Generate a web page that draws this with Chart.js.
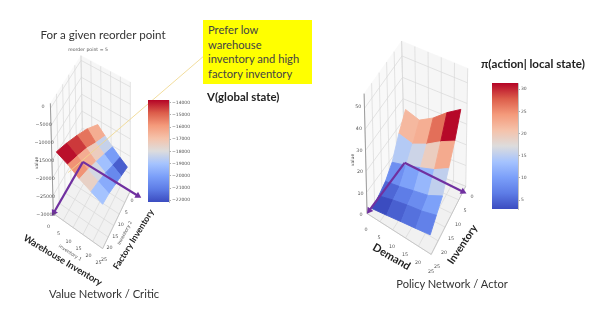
<!DOCTYPE html>
<html>
<head>
<meta charset="utf-8">
<script src="https://cdn.jsdelivr.net/npm/chart.js@4"></script>
<style>
  html, body { margin: 0; padding: 0; background: #fff; }
  #page { position: relative; width: 598px; height: 312px; overflow: hidden; font-family: Lato, sans-serif; color: #333; filter: blur(0.4px); }
  canvas { position: absolute; }
  .t { position: absolute; white-space: nowrap; transform: translate(-50%, -50%); }
  .l { position: absolute; white-space: nowrap; }
  .b { font-weight: 700; color: #222; }
  #note { position: absolute; left: 203px; top: 20px; width: 109px; height: 64px; background: #ffff00; box-sizing: border-box; padding: 3px 0 0 5px; font-size: 11.2px; line-height: 14.7px; color: #444; white-space: nowrap; }
</style>
</head>
<body>
<div id="page">
  <canvas id="scene" width="598" height="312" style="left:0;top:0;width:598px;height:312px"></canvas>
  <canvas id="barCritic" style="left:148px;top:94px"></canvas>
  <canvas id="barActor" style="left:492px;top:77px"></canvas>

  <div class="t" style="left:103px;top:34px;font-size:11.6px">For a given reorder point</div>
  <div class="t" style="left:104px;top:293px;font-size:11.2px">Value Network / Critic</div>
  <div class="t" style="left:452px;top:283px;font-size:11.1px">Policy Network / Actor</div>
  <div id="note">Prefer low<br>warehouse<br>inventory and high<br>factory inventory</div>
  <div class="l b" style="left:207px;top:90px;font-size:11.4px">V(global state)</div>
  <div class="l b" style="left:481px;top:57px;font-size:11.6px">π(action| local state)</div>
  <div class="t b" style="left:63px;top:260px;font-size:9.4px;transform:translate(-50%,-50%) rotate(31deg)">Warehouse Inventory</div>
  <div class="t b" style="left:133px;top:239px;font-size:8.8px;transform:translate(-50%,-50%) rotate(-58deg)">Factory Inventory</div>
  <div class="t b" style="left:392px;top:256px;font-size:11px;transform:translate(-50%,-50%) rotate(30deg)">Demand</div>
  <div class="t b" style="left:462px;top:244px;font-size:10.5px;transform:translate(-50%,-50%) rotate(-56deg)">Inventory</div>
</div>

<script>
// values
const axisTicks = [0, 5, 10, 15, 20, 25];
const criticZTicks = [-30000, -25000, -20000, -15000, -10000, -5000, 0];
const actorZTicks = [0, 10, 20, 30, 40, 50];
const criticBarTicks = [-22000, -21000, -20000, -19000, -18000, -17000, -16000, -15000, -14000];
const actorBarTicks = [5, 10, 15, 20, 25, 30];

const warehouseLevels = [0, 6.25, 12.5, 18.75, 25];
const factoryLevels = [25, 18.75, 12.5, 6.25, 0];
const criticValues = [
  [-13000, -13200, -13700, -14500, -16000],
  [-14500, -15000, -15700, -17000, -18000],
  [-16500, -17000, -17800, -18800, -19800],
  [-18000, -18500, -19300, -20500, -21500],
  [-19500, -20000, -21000, -22000, -23000],
];

const demandLevels = [0, 6.25, 12.5, 18.75, 25];
const inventoryLevels = [25, 20, 15, 10, 5, 0];
const actorValues = [
  [1.4, 3, 5.4, 10, 19, 26],
  [2.5, 5, 6.7, 12, 17.4, 24],
  [3.7, 6.6, 8.4, 14.4, 20.6, 28],
  [4.8, 7.8, 10, 17, 25, 33.5],
  [6, 9.8, 13.5, 21, 28.5, 38],
];

const coolwarm = ['#3b4cc0', '#5d7ce6', '#7b9ff9', '#a5c3fe', '#dddcdc', '#f5c2aa', '#f49a7b', '#dc5d4a', '#b40426'];
const hex = c => [1, 3, 5].map(i => parseInt(c.slice(i, i + 2), 16));
const colorAt = t => {
  const p = Math.min(Math.max(t, 0), 1) * (coolwarm.length - 1);
  const i = Math.min(Math.floor(p), coolwarm.length - 2);
  const a = hex(coolwarm[i]), b = hex(coolwarm[i + 1]);
  return `rgb(${a.map((v, k) => Math.round(v + (b[k] - v) * (p - i))).join(',')})`;
};

const bilinear = (q, u, v) => {
  const mix = k => (1 - u) * (1 - v) * q.L[k] + (1 - u) * v * q.B[k] + u * v * q.R[k] + u * (1 - v) * q.F[k];
  return { x: mix(0), y: mix(1) };
};

// the 3d look: floor corners L(w0,f25) B(w0,f0) R(w25,f0) F(w25,f25), tops above them
const criticBox = {
  base: { L: [50, 215], B: [80, 162], R: [128, 192], F: [100, 251] },
  top: { L: [47, 102], B: [78, 53], R: [128, 80], F: [98, 139] },
  zMin: -30000, zMax: 1400,
  surface: { L: [53, 214], B: [95, 175], R: [125, 193], F: [100, 244] }, zPx: 0.00366,
  range: [-22140, -13780],
  tickW: [-1.5, 12], tickF: [4, 9], zLabelX: -4,
};
const actorBox = {
  base: { L: [368, 215], B: [406, 163], R: [468, 187], F: [433, 257] },
  top: { L: [365, 92], B: [403, 38], R: [470, 66], F: [435, 134] },
  zMin: 0, zMax: 57,
  surface: { L: [373, 213], B: [407, 165], R: [463, 191], F: [432, 250] }, zPx: 2.18,
  range: [3, 31.4],
  tickW: [-2, 14.5], tickF: [4, 10], zLabelX: -7,
};

const project = (box, w, f, z) => {
  const u = w / 25, v = 1 - f / 25, t = (z - box.zMin) / (box.zMax - box.zMin);
  const a = bilinear(box.base, u, v), b = bilinear(box.top, u, v);
  return { x: a.x + (b.x - a.x) * t, y: a.y + (b.y - a.y) * t };
};

const poly = (pts, color, width = 0.6) => ({ data: [...pts, pts[0]], fill: 'shape', backgroundColor: color, borderColor: color, borderWidth: width, pointRadius: 0, tension: 0, showLine: true });
const line = (pts, color, width = 0.6) => ({ data: pts, fill: false, borderColor: color, borderWidth: width, pointRadius: 0, tension: 0, showLine: true });

const arrow = (a, b) => ({
  data: [a, b], fill: false, borderColor: '#7030a0', backgroundColor: '#7030a0', borderWidth: 2.2, tension: 0, showLine: true,
  pointStyle: 'triangle', pointRadius: [0, 4], pointBorderWidth: 0,
  pointRotation: Math.atan2(b.x - a.x, a.y - b.y) * 180 / Math.PI,
});

const walls = (box, zTicks) => {
  const P = (w, f, z) => project(box, w, f, z);
  const { zMin: lo, zMax: hi } = box;
  const out = [
    poly([P(0, 25, lo), P(0, 0, lo), P(25, 0, lo), P(25, 25, lo)], '#f1f1f1'),
    poly([P(0, 25, lo), P(0, 0, lo), P(0, 0, hi), P(0, 25, hi)], '#f9f9f9'),
    poly([P(0, 0, lo), P(25, 0, lo), P(25, 0, hi), P(0, 0, hi)], '#f6f6f6'),
  ];
  axisTicks.forEach(t => {
    out.push(line([P(t, 25, lo), P(t, 0, lo), P(t, 0, hi)], '#d8d8d8', 0.7));
    out.push(line([P(25, t, lo), P(0, t, lo), P(0, t, hi)], '#d8d8d8', 0.7));
  });
  zTicks.forEach(z => out.push(line([P(0, 25, z), P(0, 0, z), P(25, 0, z)], '#d8d8d8', 0.7)));
  out.push(line([P(0, 25, lo), P(0, 25, hi)], '#8a8a8a', 0.8));
  out.push(line([P(0, 25, lo), P(25, 25, lo), P(25, 0, lo)], '#bbbbbb', 0.7));
  return out;
};

const surface = (box, rowLevels, colLevels, values) => {
  const pt = (i, j) => {
    const p = bilinear(box.surface, rowLevels[i] / 25, 1 - colLevels[j] / 25);
    return { x: p.x, y: p.y - (values[i][j] - box.zMin) * box.zPx };
  };
  const out = [];
  for (let i = 0; i < rowLevels.length - 1; i++) {
    for (let j = colLevels.length - 2; j >= 0; j--) {
      const avg = (values[i][j] + values[i + 1][j] + values[i][j + 1] + values[i + 1][j + 1]) / 4;
      const c = colorAt((avg - box.range[0]) / (box.range[1] - box.range[0]));
      out.push(poly([pt(i, j), pt(i + 1, j), pt(i + 1, j + 1), pt(i, j + 1)], c, 0.9));
    }
  }
  return out;
};

const layers = [
  ...walls(criticBox, criticZTicks),
  ...walls(actorBox, actorZTicks),
  ...surface(criticBox, warehouseLevels, factoryLevels, criticValues),
  ...surface(actorBox, demandLevels, inventoryLevels, actorValues),
  line([{ x: 203, y: 53 }, { x: 65, y: 173 }], 'rgba(240,215,140,0.85)', 1),
  arrow(project(criticBox, 0, 0, -30000), project(criticBox, 0, 24.5, -30000)),
  arrow(project(criticBox, 0, 0, -30000), project(criticBox, 29, 0, -30000)),
  arrow(project(actorBox, 0, 0, 0), project(actorBox, 0, 23.5, 0)),
  arrow(project(actorBox, 0, 0, 0), project(actorBox, 25, 2, 0)),
];

const minus = v => String(v).replace('-', '\u2212');

const tickLabels = (ctx, box, zTicks) => {
  ctx.textBaseline = 'middle';
  ctx.textAlign = 'center';
  axisTicks.forEach(t => {
    const a = project(box, t, 25, box.zMin), b = project(box, 25, t, box.zMin);
    ctx.fillText(t, a.x + box.tickW[0], a.y + box.tickW[1]);
    ctx.fillText(t, b.x + box.tickF[0], b.y + box.tickF[1]);
  });
  zTicks.forEach(z => {
    const p = project(box, 0, 25, z);
    ctx.fillText(minus(z), p.x + box.zLabelX, p.y);
  });
};

const smallText = (ctx, text, x, y, deg) => {
  ctx.save();
  ctx.translate(x, y);
  ctx.rotate(deg * Math.PI / 180);
  ctx.textAlign = 'center';
  ctx.fillText(text, 0, 0);
  ctx.restore();
};

const sceneText = {
  id: 'sceneText',
  afterDatasetsDraw(chart) {
    const ctx = chart.ctx;
    ctx.save();
    ctx.fillStyle = '#555';
    ctx.font = '4.8px "DejaVu Sans"';
    tickLabels(ctx, criticBox, criticZTicks);
    tickLabels(ctx, actorBox, actorZTicks);
    ctx.font = '4.6px "DejaVu Sans"';
    smallText(ctx, 'reorder point = 5', 88, 50, 0);
    smallText(ctx, 'inventory 1', 70, 253, 33);
    smallText(ctx, 'inventory 2', 125, 233, -62);
    smallText(ctx, 'value', 37, 163, -90);
    smallText(ctx, 'value', 353, 160, -90);
    ctx.restore();
  },
};

new Chart(document.getElementById('scene'), {
  type: 'scatter',
  data: { datasets: layers.slice().reverse() },
  options: {
    responsive: false, animation: false,
    layout: { padding: 0 },
    plugins: { legend: { display: false }, tooltip: { enabled: false } },
    scales: {
      x: { type: 'linear', min: 0, max: 598, display: false },
      y: { type: 'linear', min: 0, max: 312, reverse: true, display: false },
    },
  },
  plugins: [sceneText],
});

// colorbars: one floating bar on a real y axis
const colorbar = (id, w, h, barW, range, ticks) => {
  const el = document.getElementById(id);
  el.width = w; el.height = h;
  el.style.width = w + 'px'; el.style.height = h + 'px';
  return new Chart(el, {
    type: 'bar',
    data: {
      labels: [''],
      datasets: [{
        data: [range],
        barPercentage: 1, categoryPercentage: 1, borderWidth: 0,
        backgroundColor: ({ chart }) => {
          const a = chart.chartArea;
          if (!a) return coolwarm[4];
          const g = chart.ctx.createLinearGradient(0, a.bottom, 0, a.top);
          coolwarm.forEach((c, i) => g.addColorStop(i / (coolwarm.length - 1), c));
          return g;
        },
      }],
    },
    options: {
      responsive: false, animation: false,
      layout: { padding: { top: 6, bottom: 6, left: 0, right: 0 } },
      plugins: { legend: { display: false }, tooltip: { enabled: false } },
      scales: {
        x: { display: false },
        y: {
          position: 'right', min: range[0], max: range[1],
          afterFit: s => { s.width = w - barW; },
          afterBuildTicks: s => { s.ticks = ticks.map(value => ({ value })); },
          border: { color: '#999', width: 0.6 },
          grid: { drawOnChartArea: false, tickLength: 2, tickColor: '#777', tickWidth: 0.6 },
          ticks: { color: '#555', padding: 1, font: { family: 'DejaVu Sans', size: 4.5 }, callback: minus },
        },
      },
    },
  });
};

colorbar('barCritic', 50, 114, 21, criticBox.range, criticBarTicks);
colorbar('barActor', 50, 138, 26, actorBox.range, actorBarTicks);
</script>
</body>
</html>
